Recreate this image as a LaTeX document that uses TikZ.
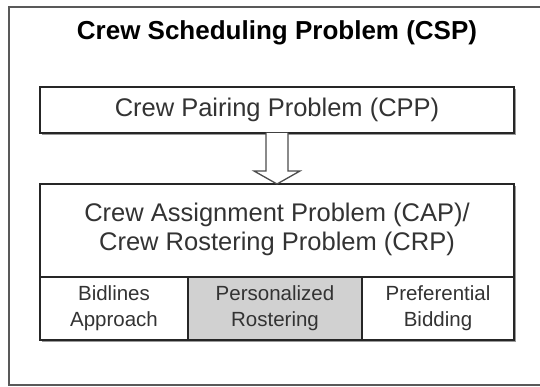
\documentclass[tikz,border=0pt]{standalone}
\usepackage{fontspec}
\setmainfont{Liberation Sans}
\usepackage{tikz}
\usetikzlibrary{calc, shadows, positioning}

\tikzset{
	frame/.style={draw=black!65, line width=1.4pt},
	box/.style={draw=black!85, line width=1.6pt, fill=white, inner sep=0pt, outer sep=0pt,
		minimum width=474pt, text=black!80, align=center,
		font=\fontsize{25.5}{28.5}\selectfont,
		drop shadow={shadow xshift=2pt, shadow yshift=-2pt, fill=black!40, opacity=1}},
	cell/.style={box, minimum height=63pt, font=\fontsize{20.5}{26}\selectfont},
	hollow/.style={draw=black!70, line width=1.3pt, fill=white, line join=miter}
}

\begin{document}
\begin{tikzpicture}[x=1pt, y=1pt]
	\useasboundingbox (0,0) rectangle (540,387);
	% outer frame, open on the right
	\draw[frame] (548,380) -- (9,380) -- (9,2) -- (548,2);
	\node[font=\fontsize{26}{30}\bfseries\selectfont] (csp) at (277,354) {Crew Scheduling Problem (CSP)};

	\node[box, minimum height=46pt] (cpp) at (277,277) {Crew Pairing Problem (CPP)};
	\node[box, minimum height=93pt] (cap) at (277,156.5)
		{\raisebox{7pt}{\begin{tabular}{@{}c@{}}Crew Assignment Problem (CAP)/\\Crew Rostering Problem (CRP)\end{tabular}}};

	% bottom row
	\node[cell, minimum width=148pt, anchor=north west] (bid) at (cap.south west) {Bidlines\\Approach};
	\node[cell, minimum width=174pt, fill=black!18, anchor=west] (pers) at (bid.east) {Personalized\\Rostering};
	\node[cell, minimum width=152pt, anchor=west] (pref) at (pers.east) {Preferential\\Bidding};

	% hollow arrow
	\draw[hollow] ($(cpp.south)+(-11,0)$) -- ($(cap.north)+(-11,13)$) -- ($(cap.north)+(-23,13)$)
		-- (cap.north) -- ($(cap.north)+(23,13)$) -- ($(cap.north)+(11,13)$) -- ($(cpp.south)+(11,0)$);
\end{tikzpicture}
\end{document}
